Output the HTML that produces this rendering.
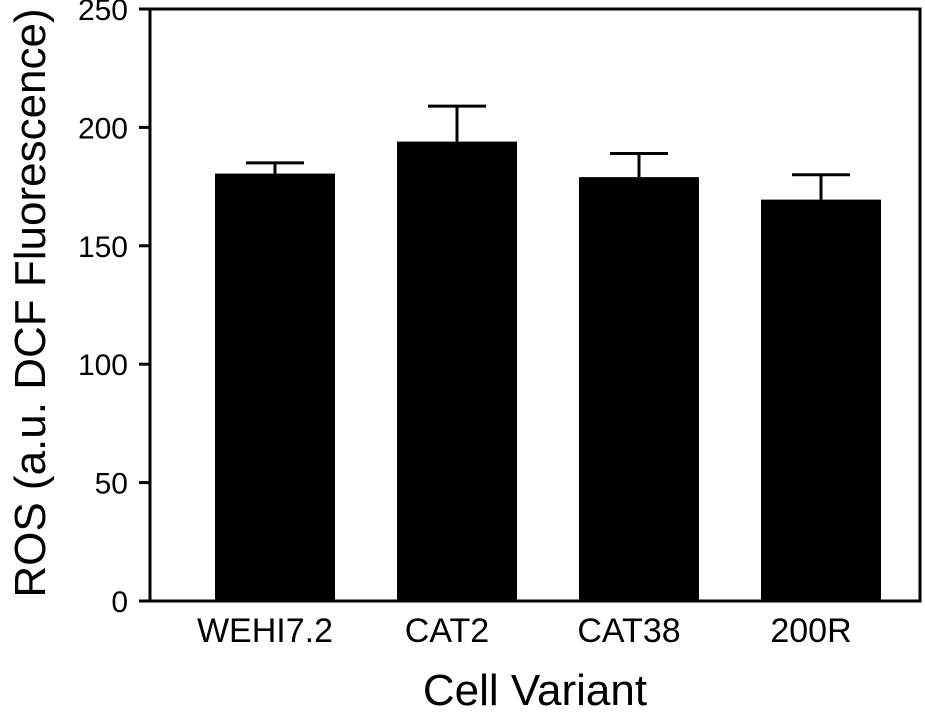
<!DOCTYPE html>
<html><head><meta charset="utf-8"><style>
html,body{margin:0;padding:0;background:#fff;}
svg text{font-family:"Liberation Sans",Arial,sans-serif;fill:#000;}
</style></head><body>
<svg width="925" height="709" viewBox="0 0 925 709" xmlns="http://www.w3.org/2000/svg">
<g id="plot"></g>
</svg>
<script>
const categories = ["WEHI7.2","CAT2","CAT38","200R"];
const values = [180.5, 194, 179, 169.5];
const errors = [4.5, 15, 10, 10.5];
const yTicks = [0,50,100,150,200,250];

const X0=150, X1=920, Y0=601, Y1=9, YMAX=250;
const y = v => Y0 - (v/YMAX)*(Y0-Y1);
const xc = i => 275 + i*182;
const BW = 120, CAP = 58;
const NS="http://www.w3.org/2000/svg";
const g=document.getElementById('plot');
function mk(t,a){const e=document.createElementNS(NS,t);for(const k in a)e.setAttribute(k,a[k]);g.appendChild(e);return e;}

categories.forEach((c,i)=>{
  const cx=xc(i), top=y(values[i]), et=y(values[i]+errors[i]);
  const eline=mk('line',{x1:cx,x2:cx,y1:top,y2:et,stroke:'#000','stroke-width':3});
  
  
  const cap=mk('line',{x1:cx-CAP/2,x2:cx+CAP/2,y1:et,y2:et,stroke:'#000','stroke-width':3});
  
  
  const r=mk('rect',{x:cx-BW/2,y:top,width:BW,height:Y0-top,fill:'#000'});
  
  
  const t=mk('text',{x:cx-10,y:642,'text-anchor':'middle','font-size':34});
  t.textContent=c;
  
  
});
const frame=mk('rect',{x:X0,y:Y1,width:X1-X0,height:Y0-Y1,fill:'none',stroke:'#000','stroke-width':3});


yTicks.forEach(v=>{
  const ty=y(v);
  const tk=mk('line',{x1:139,x2:X0,y1:ty,y2:ty,stroke:'#000','stroke-width':3});
  
  
  const t=mk('text',{x:128,y:ty+11,'text-anchor':'end','font-size':30});
  t.textContent=v;
  
  
});
const xt=mk('text',{x:535,y:705,'text-anchor':'middle','font-size':44});
xt.textContent='Cell Variant';


const yt=mk('text',{x:0,y:0,'text-anchor':'middle','font-size':44,transform:'translate(45,303) rotate(-90)'});
yt.textContent='ROS (a.u. DCF Fluorescence)';


</script>
</body></html>
